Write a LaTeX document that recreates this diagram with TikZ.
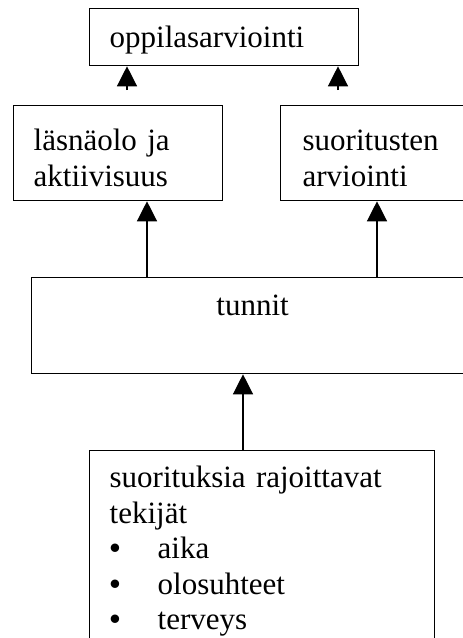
\documentclass[tikz,border=0pt]{standalone}
\usepackage{fontspec}
\setmainfont{Liberation Serif}
\usepackage{tikz}
\usetikzlibrary{arrows.meta}
\newcommand{\bul}{\makebox[48pt][l]{\textbf{\textbullet}}}

\begin{document}
\begin{tikzpicture}[x=1pt, y=-1pt, ->, >={Triangle[length=20pt, width=20pt]}, line width=1.3pt,
  box/.style={draw, -, anchor=north west, inner xsep=20pt, inner ysep=0pt, align=left,
    font=\fontsize{31}{35.5}\selectfont}]

\clip (0,0) rectangle (463,638);

% Boxes
\node (oppilas) [box, text width=229pt, text height=39pt, text depth=18pt] at (89, 8) {oppilasarviointi};
\node (lasna) [box, text width=169pt, text height=45pt, text depth=50pt] at (13, 105) {läsnäolo ja\\aktiivisuus};
\node (suor) [box, inner xsep=22pt, text width=176pt, text height=45pt, text depth=50pt] at (280, 105) {suoritusten\\arviointi};
\node (tunnit) [box, align=center, text width=402pt, text height=38pt, text depth=58pt] at (31, 277) {tunnit};
\node (rajoit) [box, text width=305pt, text height=37pt, text depth=190pt] at (89, 450)
  {suorituksia rajoittavat\\tekijät\\
   \bul aika\\
   \bul olosuhteet\\
   \bul terveys};

% Arrow feet
\coordinate (p1) at (127, 90);
\coordinate (p2) at (338, 90);
\coordinate (p3) at (147, 277);
\coordinate (p4) at (377, 277);
\coordinate (p5) at (243, 450);

% Edges
\draw (p1) -- (p1 |- oppilas.south);
\draw (p2) -- (p2 |- oppilas.south);
\draw (p3) -- (p3 |- lasna.south);
\draw (p4) -- (p4 |- suor.south);
\draw (p5) -- (p5 |- tunnit.south);

\end{tikzpicture}
\end{document}
